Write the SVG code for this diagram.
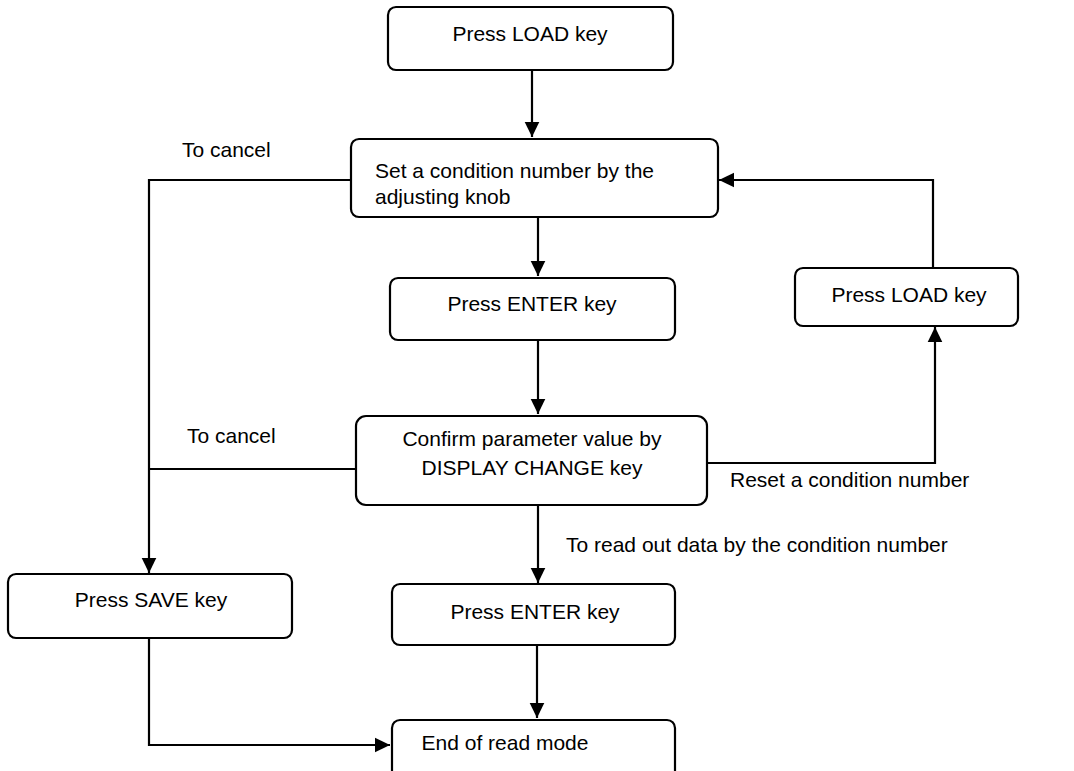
<svg xmlns="http://www.w3.org/2000/svg" width="1074" height="771" viewBox="0 0 1074 771">
  <style>
    .box { fill: #ffffff; stroke: #000000; stroke-width: 2.2; }
    .lbl { font-family: "Liberation Sans", Arial, sans-serif; font-size: 21px; fill: #000000; }
    .mid { text-anchor: middle; }
    .wire { fill: none; stroke: #000000; stroke-width: 2.2; }
  </style>
  <defs>
    <marker id="arrow" markerWidth="8" markerHeight="8" refX="7" refY="4" orient="auto" markerUnits="strokeWidth">
      <path d="M0,0.6 L7,4 L0,7.4 Z" fill="#000000"/>
    </marker>
  </defs>
  <rect width="1074" height="771" fill="#ffffff"/>

  <!-- connectors -->
  <g id="connectors">
    <line class="wire" x1="532" y1="70" x2="532" y2="137" marker-end="url(#arrow)"/>
    <polyline class="wire" points="351,180 149,180 149,573" marker-end="url(#arrow)"/>
    <line class="wire" x1="538" y1="217" x2="538" y2="276" marker-end="url(#arrow)"/>
    <line class="wire" x1="538" y1="340" x2="538" y2="414" marker-end="url(#arrow)"/>
    <line class="wire" x1="356" y1="469" x2="149" y2="469"/>
    <polyline class="wire" points="707,463 935,463 935,327" marker-end="url(#arrow)"/>
    <polyline class="wire" points="933,268 933,180 719,180" marker-end="url(#arrow)"/>
    <line class="wire" x1="538" y1="505" x2="538" y2="583" marker-end="url(#arrow)"/>
    <line class="wire" x1="537" y1="645" x2="537" y2="718" marker-end="url(#arrow)"/>
    <polyline class="wire" points="149,638 149,745 390,745" marker-end="url(#arrow)"/>
    <text class="lbl" x="182" y="157">To cancel</text>
    <text class="lbl" x="187" y="443">To cancel</text>
    <text class="lbl" x="730" y="487">Reset a condition number</text>
    <text class="lbl" x="566" y="552">To read out data by the condition number</text>
  </g>

  <g id="n-load-top">
    <rect class="box" x="388" y="7" width="285" height="63" rx="8"/>
    <text class="lbl mid" x="530" y="41">Press LOAD key</text>
  </g>

  <g id="n-set-condition">
    <rect class="box" x="351" y="139" width="367" height="78" rx="8"/>
    <text class="lbl" x="375" y="178">Set a condition number by the</text>
    <text class="lbl" x="375" y="204">adjusting knob</text>
  </g>

  <g id="n-enter-1">
    <rect class="box" x="390" y="278" width="285" height="62" rx="8"/>
    <text class="lbl mid" x="532" y="311">Press ENTER key</text>
  </g>

  <g id="n-confirm">
    <rect class="box" x="356" y="416" width="351" height="89" rx="10"/>
    <text class="lbl mid" x="532" y="446">Confirm parameter value by</text>
    <text class="lbl mid" x="532" y="475">DISPLAY CHANGE key</text>
  </g>

  <g id="n-load-right">
    <rect class="box" x="795" y="268" width="223" height="58" rx="8"/>
    <text class="lbl mid" x="909" y="302">Press LOAD key</text>
  </g>

  <g id="n-save">
    <rect class="box" x="8" y="574" width="284" height="64" rx="8"/>
    <text class="lbl mid" x="151" y="607">Press SAVE key</text>
  </g>

  <g id="n-enter-2">
    <rect class="box" x="392" y="584" width="283" height="61" rx="8"/>
    <text class="lbl mid" x="535" y="619">Press ENTER key</text>
  </g>

  <g id="n-end">
    <rect class="box" x="392" y="720" width="283" height="62" rx="8"/>
    <text class="lbl mid" x="505" y="750">End of read mode</text>
  </g>
</svg>
